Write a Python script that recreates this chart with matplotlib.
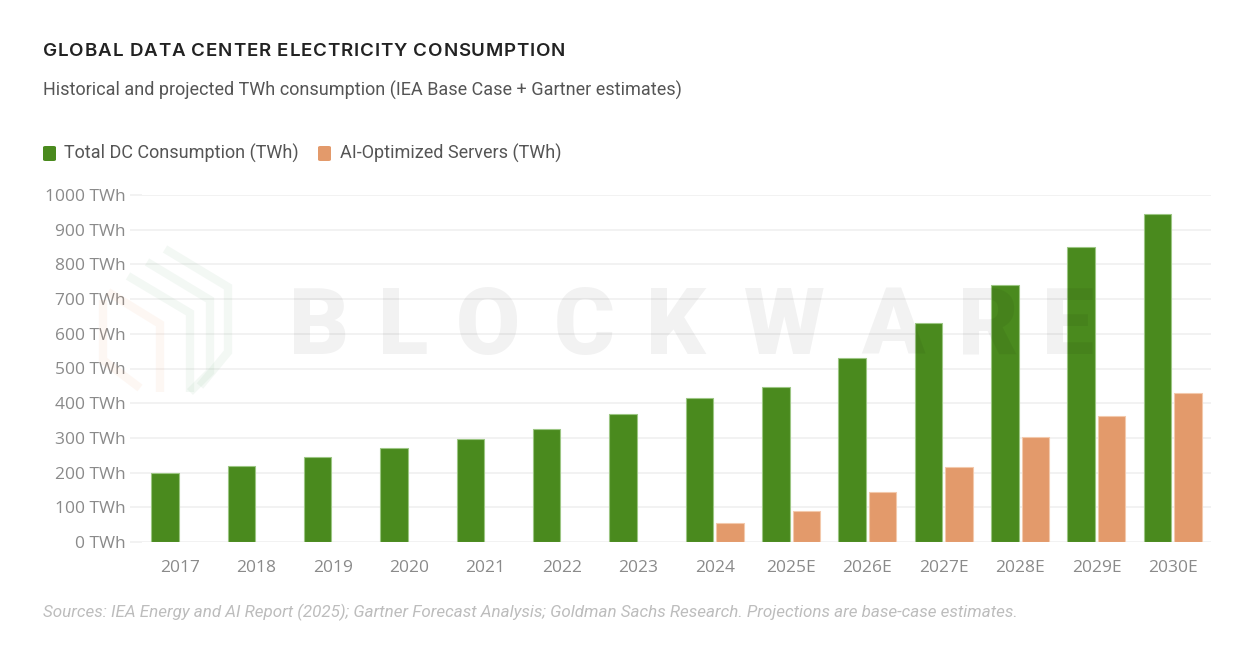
import numpy as np
import matplotlib
matplotlib.use("Agg")
import matplotlib.pyplot as plt
from matplotlib.patches import FancyBboxPatch
from matplotlib.lines import Line2D

# ---- data ----
categories = ["2017", "2018", "2019", "2020", "2021", "2022", "2023",
              "2024", "2025E", "2026E", "2027E", "2028E", "2029E", "2030E"]
total_dc = [200, 220, 245, 270, 297, 325, 370, 415, 448, 530, 632, 741, 850, 945]
ai_servers = [None, None, None, None, None, None, None, 54, 90, 145, 217, 302, 364, 430]
y_ticks = [0, 100, 200, 300, 400, 500, 600, 700, 800, 900, 1000]
y_tick_labels = [f"{v} TWh" for v in y_ticks]
series_names = ["Total DC Consumption (TWh)", "AI-Optimized Servers (TWh)"]

GREEN = "#4a8a1e"
ORANGE = "#e39a6b"
GRID = "#f0f0f0"

W, H = 1246, 664
fig = plt.figure(figsize=(W / 100, H / 100), dpi=100)
fig.patch.set_facecolor("white")
renderer = fig.canvas.get_renderer()

def fx(x):
    return x / W

def fy(y):
    return 1 - y / H

def spaced_text(x0, y, s, spacing_px, **kw):
    """Draw text with extra letter spacing (in pixels)."""
    probe = fig.text(0, 0, "", **kw)
    for i, ch in enumerate(s):
        if ch == " ":
            continue
        probe.set_text(s[:i + 1])
        wpx = probe.get_window_extent(renderer).width
        fig.text(fx(x0 + wpx + i * spacing_px), y, ch, ha="right", **kw)
    probe.remove()

ax = fig.add_axes([fx(142), fy(542), fx(1211) - fx(142), fy(195) - fy(542)])
ax.set_facecolor("none")

x = np.arange(len(categories))
bw = 0.36
off = 0.2
ai_vals = np.array([np.nan if v is None else v for v in ai_servers], dtype=float)
ax.bar(x - off, total_dc, width=bw, color=GREEN, edgecolor="#9cc683",
       linewidth=0.8, zorder=3)
mask = ~np.isnan(ai_vals)
ax.bar(x[mask] + off, ai_vals[mask], width=bw, color=ORANGE, edgecolor="#f3c9ac",
       linewidth=0.8, zorder=3)

ax.set_xlim(-0.5, len(categories) - 0.5)
ax.set_ylim(0, 1000)
ax.set_yticks(y_ticks)
ax.set_yticklabels(y_tick_labels)
ax.set_xticks(x)
ax.set_xticklabels(categories)
ax.yaxis.grid(True, color=GRID, linewidth=1.2, zorder=0)
ax.set_axisbelow(True)
for s in ax.spines.values():
    s.set_visible(False)
ax.tick_params(axis="y", length=8.6, width=1.2, color=GRID, pad=3,
               labelsize=12.5, labelcolor="#8a8a8a")
ax.tick_params(axis="x", length=0, pad=13, labelsize=12.5, labelcolor="#8a8a8a")
for lbl in ax.get_yticklabels() + ax.get_xticklabels():
    lbl.set_fontfamily("Open Sans")

# ---- faint logo watermark ----
logo_green = (0.55, 0.75, 0.6, 0.10)
logo_orange = (0.95, 0.6, 0.4, 0.08)
for pts, col in [
    ([(165, 249), (228, 287), (228, 352), (200, 386)], logo_green),
    ([(147, 262), (210, 300), (210, 372), (190, 392)], logo_green),
    ([(128, 276), (190, 313), (190, 392)], logo_green),
    ([(108, 292), (160, 324), (160, 392)], logo_orange),
    ([(103, 300), (103, 360), (140, 388)], logo_orange),
]:
    xs = [fx(p[0]) for p in pts]
    ys = [fy(p[1]) for p in pts]
    fig.add_artist(Line2D(xs, ys, color=col, linewidth=6, solid_capstyle="butt",
                          solid_joinstyle="miter", transform=fig.transFigure))

# ---- BLOCKWARE watermark ----
letters = list("BLOCKWARE")
centers = [319, 403, 488, 584, 676, 784, 893, 988, 1068]
for ch, cx in zip(letters, centers):
    fig.text(fx(cx), fy(354), ch, ha="center", va="baseline", fontsize=67,
             fontfamily="Roboto", fontweight="black", color=(0, 0, 0, 0.05),
             zorder=10)

# ---- titles ----
spaced_text(43, fy(52), "GLOBAL DATA CENTER ELECTRICITY CONSUMPTION", 0.8,
            va="center", fontsize=13.5, fontfamily="Inter",
            fontweight="semibold", color="#222222")
fig.text(fx(43), fy(90),
         "Historical and projected TWh consumption (IEA Base Case + Gartner estimates)",
         ha="left", va="center", fontsize=13, fontfamily="Roboto", color="#555555")

# ---- legend ----
for (lx, tx), name, col in zip([(43, 64), (318, 340)], series_names, [GREEN, ORANGE]):
    fig.add_artist(FancyBboxPatch((fx(lx), fy(161)), fx(13), 15 / H,
                                  boxstyle="round,pad=0,rounding_size=0.002",
                                  facecolor=col, edgecolor="none",
                                  transform=fig.transFigure))
    fig.text(fx(tx), fy(153), name, ha="left", va="center", fontsize=13,
             fontfamily="Roboto", color="#555555")

# ---- footnote ----
fig.text(fx(43), fy(612),
         "Sources: IEA Energy and AI Report (2025); Gartner Forecast Analysis; "
         "Goldman Sachs Research. Projections are base-case estimates.",
         ha="left", va="center", fontsize=12.25, fontfamily="Roboto",
         fontstyle="italic", color="#bdbdbd")

fig.savefig("out.png", dpi=100, facecolor="white")
